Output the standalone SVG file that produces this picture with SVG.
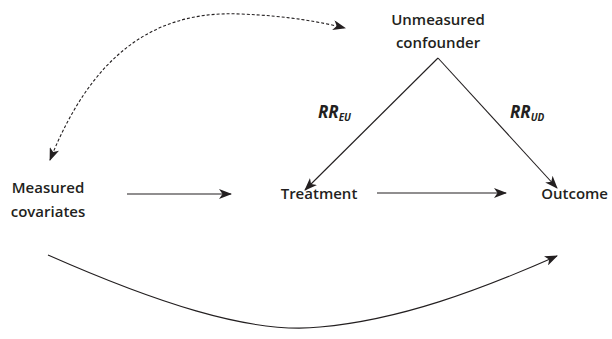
<svg xmlns="http://www.w3.org/2000/svg" width="612" height="339" viewBox="0 0 612 339">
<style>
.lbl{font-family:"Open Sans","Liberation Sans",sans-serif;font-weight:600;font-size:15px;fill:#231f20}
.rr{font-family:"Open Sans","Liberation Sans",sans-serif;font-weight:700;font-style:italic;font-size:17px;fill:#231f20}
.sub{font-size:10px}
.edge{fill:none;stroke:#231f20;stroke-width:1.1}
.dash{fill:none;stroke:#231f20;stroke-width:1.1;stroke-dasharray:3,2}
</style>
<defs>
<marker id="ah" viewBox="0 0 13 10" refX="12" refY="5" markerWidth="13" markerHeight="10" markerUnits="userSpaceOnUse" orient="auto-start-reverse">
<path d="M0,0 L13,5 L0,10 L3.5,5 Z" fill="#231f20"/>
</marker>
</defs>
<rect width="612" height="339" fill="#fff"/>
<g id="connectors">
<path class="dash" d="M50,160 C90,60 150,10 240,14 C290,16 320,22 345,28" marker-start="url(#ah)" marker-end="url(#ah)"/>
<path class="edge" d="M438,58 L305,190" marker-end="url(#ah)"/>
<path class="edge" d="M438,58 L557,188" marker-end="url(#ah)"/>
<path class="edge" d="M127,194 L231,194" marker-end="url(#ah)"/>
<path class="edge" d="M377,193 L506,193" marker-end="url(#ah)"/>
<path class="edge" d="M48,255 C150,300 250,335 320,327 C400,320 480,290 557,256" marker-end="url(#ah)"/>
</g>
<g id="unmeasured">
<text class="lbl" x="438" y="25" text-anchor="middle">Unmeasured</text>
<text class="lbl" x="438" y="48" text-anchor="middle">confounder</text>
</g>
<g id="rr-eu"><text class="rr" x="318" y="118">RR<tspan class="sub" dy="3">EU</tspan></text></g>
<g id="rr-ud"><text class="rr" x="510" y="118">RR<tspan class="sub" dy="3">UD</tspan></text></g>
<g id="measured">
<text class="lbl" x="48" y="193" text-anchor="middle">Measured</text>
<text class="lbl" x="48" y="217" text-anchor="middle">covariates</text>
</g>
<g id="treatment"><text class="lbl" x="319" y="199" text-anchor="middle">Treatment</text></g>
<g id="outcome"><text class="lbl" x="608" y="199" text-anchor="end">Outcome</text></g>
</svg>
